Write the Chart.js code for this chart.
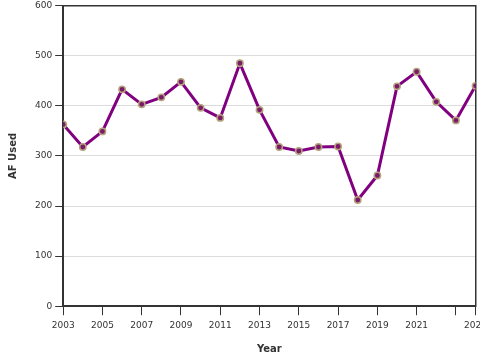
<!DOCTYPE html>
<html>
<head>
<meta charset="utf-8">
<script src="https://cdn.jsdelivr.net/npm/chart.js@4/dist/chart.umd.min.js"></script>
<style>
  html, body { margin: 0; padding: 0; background: #fff; overflow: hidden; }
  #wrap { position: relative; width: 492px; height: 360px; }
</style>
</head>
<body>
<div id="wrap"><canvas id="chart"></canvas></div>
<script>
  // data
  const years = [2003, 2004, 2005, 2006, 2007, 2008, 2009, 2010, 2011, 2012, 2013,
                 2014, 2015, 2016, 2017, 2018, 2019, 2020, 2021, 2022, 2023, 2024];
  const afUsed = [363, 318, 349, 433, 403, 417, 448, 396, 376, 485, 392,
                  318, 310, 318, 319, 212, 261, 439, 468, 408, 371, 440];
  const xTickValues = [2003, 2005, 2007, 2009, 2011, 2013, 2015, 2017, 2019, 2021, 2023, 2024];
  const xTickLabels = ['2003', '2005', '2007', '2009', '2011', '2013', '2015', '2017', '2019', '2021', '', '2024'];

  const axisColor = '#333';
  const font = { family: 'DejaVu Sans', size: 9 };

  // closes the plot box along the top edge
  const topBorder = {
    id: 'topBorder',
    afterDraw(chart) {
      const { ctx, chartArea: a } = chart;
      ctx.save();
      ctx.strokeStyle = axisColor;
      ctx.lineWidth = 1.5;
      ctx.beginPath();
      ctx.moveTo(a.left, a.top);
      ctx.lineTo(a.right, a.top);
      ctx.stroke();
      ctx.restore();
    }
  };

  const ctx = document.getElementById('chart').getContext('2d');
  new Chart(ctx, {
    type: 'line',
    data: {
      datasets: [{
        label: 'AF Used',
        data: years.map((y, i) => ({ x: y, y: afUsed[i] })),
        borderColor: '#800080',
        borderWidth: 3,
        tension: 0,
        pointRadius: 3.2,
        pointBackgroundColor: '#7a1a68',
        pointBorderColor: '#b4a47e',
        pointBorderWidth: 1.5
      }]
    },
    plugins: [topBorder],
    options: {
      responsive: true,
      maintainAspectRatio: false,
      animation: false,
      layout: { padding: { top: 0, left: 3, right: 0, bottom: 1 } },
      plugins: { legend: { display: false }, tooltip: { enabled: false } },
      scales: {
        x: {
          type: 'linear',
          min: 2003, max: 2024,
          afterBuildTicks: s => { s.ticks = xTickValues.map(v => ({ value: v })); },
          ticks: {
            autoSkip: false, maxRotation: 0, color: axisColor, font, padding: 5,
            callback: v => xTickLabels[xTickValues.indexOf(v)]
          },
          grid: { drawOnChartArea: false, drawTicks: true, tickLength: 9, tickColor: axisColor },
          border: { color: axisColor, width: 2 },
          title: { display: true, text: 'Year', color: axisColor,
                   font: { family: 'DejaVu Sans', size: 10, weight: 'bold' }, padding: { top: 7 } }
        },
        y: {
          min: 0, max: 600,
          ticks: { stepSize: 100, color: axisColor, font: { family: 'DejaVu Sans', size: 9, lineHeight: 0.6 }, padding: 3 },
          grid: { color: '#dcdcdc', lineWidth: 1, tickLength: 8, tickColor: axisColor },
          border: { color: axisColor, width: 2 },
          title: { display: true, text: 'AF Used', color: axisColor,
                   font: { family: 'DejaVu Sans', size: 10, weight: 'bold' }, padding: { bottom: 13 } }
        },
        yRight: {
          position: 'right', min: 0, max: 600,
          ticks: { display: false }, grid: { display: false },
          border: { color: axisColor, width: 1.5 }
        }
      }
    }
  });
</script>
</body>
</html>
